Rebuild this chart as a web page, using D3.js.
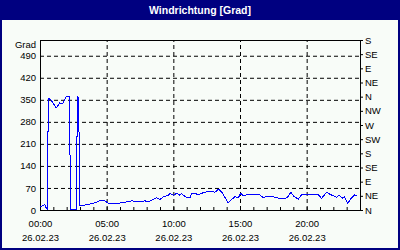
<!DOCTYPE html>
<html lang="de">
<head>
<meta charset="UTF-8">
<title>Windrichtung</title>
<script src="https://d3js.org/d3.v7.min.js"></script>
<style>
    body { margin: 0; }
    svg { display: block; font-family: "Liberation Sans", Arial, sans-serif; }
    .tick text { font-size: 9.5px; fill: #000; }
</style>
</head>
<body>
<script>
    // measurement times on 26.02.23 and wind direction in degrees
    const times = ["00:02", "00:21", "00:29", "00:34", "00:37", "00:50", "01:13", "01:29", "01:41", "01:50",
        "01:58", "02:08", "02:13", "02:17", "02:44", "02:48", "02:54", "02:59", "03:09", "03:23",
        "03:45", "04:08", "04:30", "04:53", "05:07", "05:30", "06:00", "06:30", "06:53", "07:30",
        "07:53", "08:07", "08:30", "08:45", "09:00", "09:15", "09:37", "09:45", "10:00", "10:15",
        "10:30", "10:37", "10:53", "11:15", "11:23", "11:37", "11:53", "12:07", "12:30", "12:53",
        "13:07", "13:23", "13:37", "14:07", "14:23", "14:37", "14:53", "15:03", "15:15", "15:30",
        "16:00", "16:30", "16:45", "17:00", "17:30", "18:00", "18:23", "18:35", "18:49", "19:04",
        "19:23", "19:37", "20:07", "20:30", "20:53", "21:07", "21:30", "21:45", "22:00", "22:15",
        "22:25", "22:40", "22:49", "23:05", "23:20", "23:35", "23:47"];
    const grad = [10, 17, 5, 3, 356, 349, 324, 340, 337, 349,
        359, 360, 359, 3, 3, 359, 356, 13, 13, 16,
        19, 23, 30, 29, 21, 19, 22, 26, 29, 26,
        29, 26, 34, 39, 34, 42, 47, 53, 47, 53,
        47, 53, 42, 39, 53, 53, 48, 53, 58, 60,
        56, 66, 58, 23, 34, 42, 39, 53, 45, 48,
        48, 48, 39, 44, 42, 36, 36, 42, 56, 42,
        35, 48, 49, 48, 48, 37, 56, 50, 45, 40,
        48, 37, 42, 21, 37, 48, 46];

    const leftTicks = [0, 70, 140, 210, 280, 350, 420, 490];
    const compass = ["N", "NE", "E", "SE", "S", "SW", "W", "NW", "N", "NE", "E", "SE", "S"];
    const xTickHours = [0, 5, 10, 15, 20];
    const dateLabel = "26.02.23";

    const w = 400;
    const h = 250;
    const pLeft = 40, pRight = 360, pTop = 40, pBottom = 210;

    const parse = d3.timeParse("%d.%m.%y %H:%M");
    const t0 = parse(dateLabel + " 00:00");
    const t1 = d3.timeDay.offset(t0, 1);
    const data = times.map((t, i) => ({ t: parse(dateLabel + " " + t), v: grad[i] }));

    const x = d3.scaleTime().domain([t0, t1]).range([pLeft, pRight]);
    const y = d3.scaleLinear().domain([0, 540]).range([pBottom, pTop]);

    const svg = d3.select("body").append("svg")
        .attr("width", w)
        .attr("height", h);

    svg.append("rect")
        .attr("width", w).attr("height", h)
        .attr("fill", "#f8fcf8");

    // title bar
    svg.append("rect")
        .attr("width", w).attr("height", 20)
        .attr("fill", "#000080");
    svg.append("text")
        .attr("x", w / 2).attr("y", 14)
        .attr("text-anchor", "middle")
        .attr("fill", "#fff")
        .style("font-weight", "bold")
        .style("font-size", "10.5px")
        .text("Windrichtung [Grad]");

    // outer border
    svg.append("rect")
        .attr("x", 1).attr("y", 1)
        .attr("width", w - 2).attr("height", h - 2)
        .attr("fill", "none")
        .attr("stroke", "#000080")
        .attr("stroke-width", 2);

    // grid
    const xTicks = xTickHours.map(hh => d3.timeHour.offset(t0, hh));
    svg.append("g")
        .attr("transform", "translate(0," + pBottom + ")")
        .call(d3.axisBottom(x).tickValues(xTicks.slice(1)).tickSize(-(pBottom - pTop)).tickFormat(""))
        .call(g => g.select(".domain").remove())
        .call(g => g.selectAll("line").attr("stroke", "#000").attr("stroke-dasharray", "4,3"));
    svg.append("g")
        .attr("transform", "translate(" + pLeft + ",0)")
        .call(d3.axisLeft(y).tickValues(leftTicks.slice(1)).tickSize(-(pRight - pLeft)).tickFormat(""))
        .call(g => g.select(".domain").remove())
        .call(g => g.selectAll("line").attr("stroke", "#000").attr("stroke-dasharray", "4,3"));

    // hourly minor ticks
    svg.append("g")
        .attr("transform", "translate(0," + pBottom + ")")
        .call(d3.axisBottom(x).ticks(d3.timeHour.every(1)).tickSize(-3).tickFormat(""))
        .call(g => g.select(".domain").remove());

    // frame
    svg.append("rect")
        .attr("x", pLeft + 0.5).attr("y", pTop + 0.5)
        .attr("width", pRight - pLeft).attr("height", pBottom - pTop)
        .attr("fill", "none")
        .attr("stroke", "#000");

    // left axis labels
    svg.append("g")
        .attr("transform", "translate(" + pLeft + ",0)")
        .call(d3.axisLeft(y).tickValues(leftTicks).tickSize(0).tickPadding(4))
        .call(g => g.select(".domain").remove());
    svg.append("text")
        .attr("x", pLeft - 4).attr("y", 48)
        .attr("text-anchor", "end")
        .style("font-size", "9.5px")
        .text("Grad");

    // right axis compass
    svg.append("g")
        .attr("transform", "translate(" + pRight + ",0)")
        .call(d3.axisRight(y).tickValues(d3.range(0, 541, 45)).tickSize(3).tickPadding(2)
            .tickFormat((d, i) => compass[i]))
        .call(g => g.select(".domain").remove());

    // bottom labels: time and date
    svg.append("g")
        .attr("transform", "translate(0," + pBottom + ")")
        .call(d3.axisBottom(x).tickValues(xTicks).tickSize(0).tickPadding(10)
            .tickFormat(d3.timeFormat("%H:%M")))
        .call(g => g.select(".domain").remove())
        .call(g => g.selectAll(".tick").append("text")
            .attr("y", 31)
            .attr("fill", "#000")
            .text(d => d3.timeFormat("%d.%m.%y")(d)));

    // wind direction line
    const line = d3.line()
        .x(d => x(d.t))
        .y(d => y(d.v));

    svg.append("path")
        .datum(data)
        .attr("d", line)
        .attr("fill", "none")
        .attr("stroke", "#0000ff")
        .attr("stroke-width", 1)
        .style("shape-rendering", "crispEdges");
</script>
</body>
</html>
